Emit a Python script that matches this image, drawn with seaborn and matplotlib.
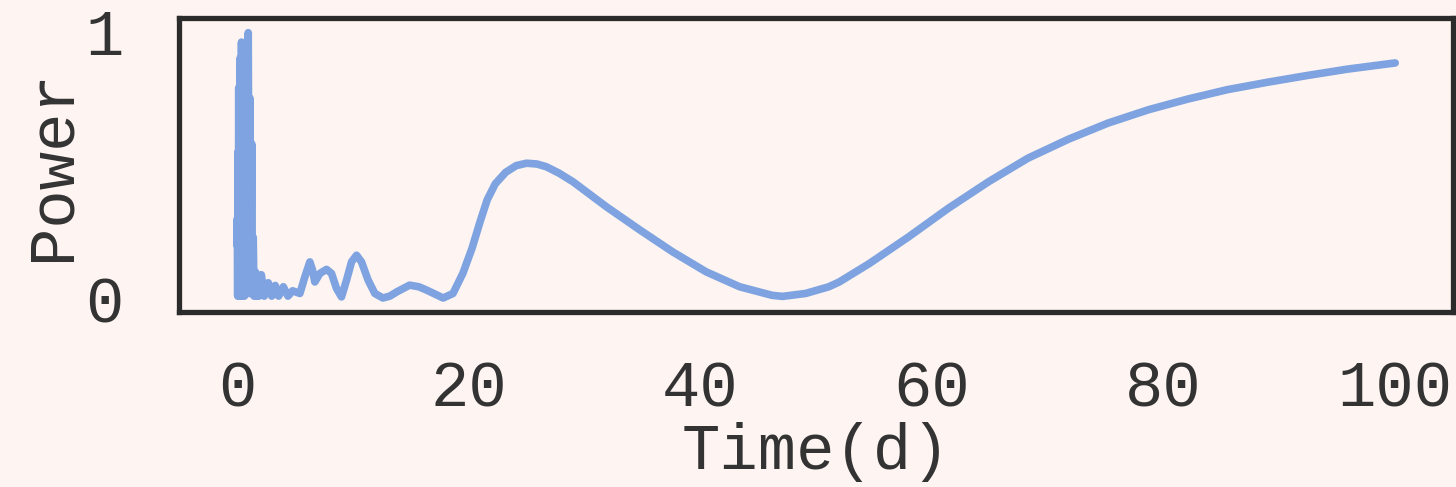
import matplotlib
matplotlib.use("Agg")
import matplotlib.pyplot as plt
import seaborn as sns
import pandas as pd

# Period (days) and normalised periodogram power
time_d = [
    0.00, 0.03, 0.06, 0.09, 0.12, 0.15, 0.18, 0.21, 0.24, 0.27,
    0.30, 0.33, 0.36, 0.39, 0.42, 0.45, 0.48, 0.52, 0.56, 0.60,
    0.64, 0.68, 0.72, 0.76, 0.80, 0.85, 0.90, 0.97, 1.05, 1.12,
    1.19, 1.27, 1.33, 1.40, 1.47, 1.60, 1.70, 1.80, 1.90, 2.10,
    2.35, 2.70, 3.00, 3.30, 3.60, 4.00, 4.40, 4.80, 5.43,
    5.86, 6.29, 6.52, 6.72, 7.16, 7.73, 8.16, 8.59, 9.02, 9.46,
    9.89, 10.32, 10.75, 11.32, 11.90, 12.60, 13.20, 13.80, 14.90, 15.70,
    16.40, 17.80, 18.65, 19.50, 20.30, 21.00, 21.60, 22.30, 23.20, 24.10,
    25.00, 25.90, 26.70, 27.80, 29.00, 31.90, 34.80, 37.60, 40.50, 43.40,
    46.20, 47.10, 49.10, 51.10, 52.00, 54.60, 58.00, 61.40, 64.90, 68.30,
    71.80, 75.20, 78.70, 82.10, 85.50, 89.00, 92.40, 95.90, 100.0,
]
power = [
    0.20, 0.30, 0.01, 0.55, 0.02, 0.79, 0.03, 0.45, 0.01, 0.90,
    0.02, 0.70, 0.03, 0.96, 0.01, 0.60, 0.02, 0.93, 0.03, 0.75,
    0.01, 0.90, 0.02, 0.55, 0.03, 0.85, 0.02, 0.995, 0.02, 0.75,
    0.02, 0.58, 0.02, 0.23, 0.01, 0.10, 0.01, 0.08, 0.01, 0.09,
    0.01, 0.06, 0.01, 0.05, 0.01, 0.045, 0.01, 0.03, 0.02,
    0.082, 0.138, 0.107, 0.063, 0.095, 0.110, 0.095, 0.039, 0.007, 0.070,
    0.138, 0.163, 0.138, 0.070, 0.020, 0.003, 0.010, 0.026, 0.051, 0.045,
    0.032, 0.003, 0.020, 0.095, 0.190, 0.290, 0.370, 0.430, 0.473, 0.498,
    0.507, 0.504, 0.494, 0.470, 0.438, 0.344, 0.257, 0.176, 0.101, 0.045,
    0.013, 0.009, 0.020, 0.045, 0.063, 0.132, 0.232, 0.338, 0.438, 0.526,
    0.597, 0.657, 0.707, 0.747, 0.782, 0.810, 0.835, 0.859, 0.882,
]
x_ticks = [0, 20, 40, 60, 80, 100]
y_ticks = [0, 1]

bg = "#fef4f1"
line_color = "#7ea3e0"
frame_color = "#2b2b2b"
text_color = "#333333"

sns.set_theme(style="white")
plt.rcParams["font.family"] = ["Liberation Mono", "DejaVu Sans"]
plt.rcParams["figure.facecolor"] = bg
plt.rcParams["axes.facecolor"] = bg

df = pd.DataFrame({"Time(d)": time_d, "Power": power})

fig = plt.figure(figsize=(14.56, 4.87), dpi=100)
ax = fig.add_axes([0.123, 0.359, 0.875, 0.604])
sns.lineplot(data=df, x="Time(d)", y="Power", ax=ax, color=line_color,
             linewidth=5.5, estimator=None, sort=False,
             solid_capstyle="round", solid_joinstyle="round")

ax.set_xlim(-5, 105)
ax.set_ylim(-0.05, 1.05)
ax.set_xticks(x_ticks)
ax.set_yticks(y_ticks)
ax.tick_params(axis="both", length=0, labelsize=46, labelcolor=text_color)
ax.tick_params(axis="x", pad=34)
ax.tick_params(axis="y", pad=40)
ax.set_xlabel("Time(d)", fontsize=46, color=text_color, labelpad=2)
ax.set_ylabel("Power", fontsize=46, color=text_color, labelpad=2)
for s in ax.spines.values():
    s.set_visible(True)
    s.set_color(frame_color)
    s.set_linewidth(3.8)

fig.savefig("out.png", dpi=100, facecolor=bg)
